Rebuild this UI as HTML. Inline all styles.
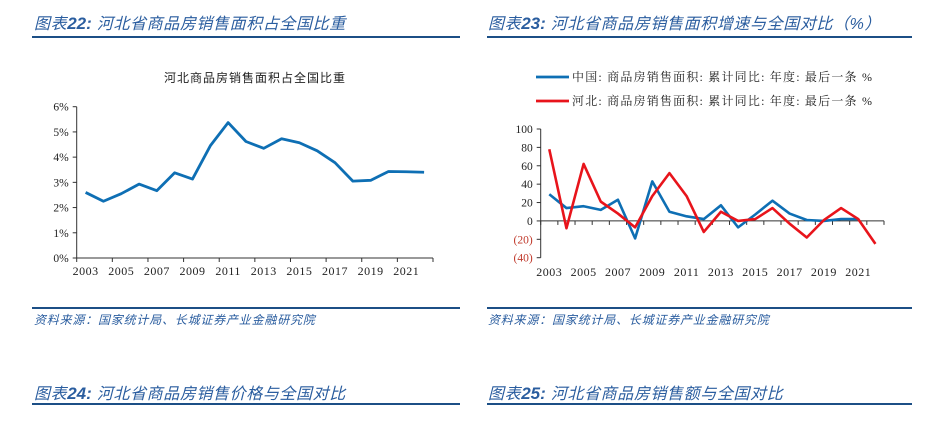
<!DOCTYPE html>
<html><head><meta charset="utf-8">
<style>
body{margin:0;width:940px;height:422px;background:#fff;overflow:hidden;font-family:"Liberation Sans","Noto Sans CJK SC",sans-serif;}
.h{position:absolute;color:#2a5d9f;font-style:italic;font-size:16px;letter-spacing:0.6px;white-space:nowrap;font-weight:normal}
.h b{font-weight:bold;letter-spacing:0;font-size:17px}
.h i{font-style:italic;font-weight:normal}
.ln{position:absolute;height:1.5px;background:#1c4f86;}
.src{position:absolute;color:#2a5d9f;font-style:italic;font-size:12px;letter-spacing:0.8px;white-space:nowrap;}
svg{position:absolute;left:0;top:0}
</style></head><body>
<div class="h" style="left:34px;top:10px"><i>图表</i><b>22:</b> 河北省商品房销售面积占全国比重</div>
<div class="h" style="left:488px;top:10px"><i>图表</i><b>23:</b> 河北省商品房销售面积增速与全国对比（%）</div>
<div class="ln" style="left:32px;top:36px;width:428px"></div>
<div class="ln" style="left:487px;top:36px;width:425px"></div>
<div class="ln" style="left:32px;top:307px;width:428px"></div>
<div class="ln" style="left:487px;top:307px;width:425px"></div>
<div class="src" style="left:34px;top:311px">资料来源：国家统计局、长城证券产业金融研究院</div>
<div class="src" style="left:488px;top:311px">资料来源：国家统计局、长城证券产业金融研究院</div>
<div class="h" style="left:34px;top:380px"><i>图表</i><b>24:</b> 河北省商品房销售价格与全国对比</div>
<div class="h" style="left:488px;top:380px"><i>图表</i><b>25:</b> 河北省商品房销售额与全国对比</div>
<div class="ln" style="left:32px;top:403px;width:428px"></div>
<div class="ln" style="left:487px;top:403px;width:425px"></div>
<svg id="s" width="940" height="422"></svg>
<script>
const years=[2003,2004,2005,2006,2007,2008,2009,2010,2011,2012,2013,2014,2015,2016,2017,2018,2019,2020,2021,2022];
const shareVals=[2.6,2.25,2.55,2.93,2.67,3.38,3.13,4.45,5.37,4.62,4.35,4.73,4.57,4.25,3.78,3.05,3.08,3.43,3.42,3.4];
const shareTicks=[0,1,2,3,4,5,6];
const chinaVals=[29,14,16,12,23,-19,43,10,5,2,17,-7,7,22,8,1,0,2,2,null];
const hebeiVals=[78,-8,62,21,8,-7,27,52,27,-12,10,0,2,14,-3,-18,1,14,2,-25];
const growthTicks=[100,80,60,40,20,0,-20,-40];
const xLabels=[2003,2005,2007,2009,2011,2013,2015,2017,2019,2021];
const S=document.getElementById('s');const NS='http://www.w3.org/2000/svg';
function el(t,a,txt){const e=document.createElementNS(NS,t);for(const k in a)e.setAttribute(k,a[k]);if(txt!=null)e.textContent=txt;S.appendChild(e);return e;}
const F='"Liberation Serif","Noto Serif CJK SC",serif';
// left chart
const L={x0:76.7,x1:433,y0:258,y1:106.7};
const lx=i=>L.x0+(L.x1-L.x0)/years.length*(i+0.5);
const ly=v=>L.y0-(L.y0-L.y1)*v/6;
let t=el('text',{x:255,y:82,'text-anchor':'middle','font-size':12,fill:'#222','letter-spacing':1,'font-family':'"Liberation Sans","Noto Sans CJK SC",sans-serif'},'河北商品房销售面积占全国比重');


let a=el('path',{d:`M${L.x0} ${L.y1}V${L.y0}H${L.x1}`,stroke:'#333',fill:'none','stroke-width':1});


shareTicks.forEach(v=>{el('line',{x1:L.x0-4,x2:L.x0,y1:ly(v),y2:ly(v),stroke:'#333'});
 const e=el('text',{x:L.x0-8,y:ly(v)+4,'text-anchor':'end','font-size':11.5,fill:'#222','font-family':F},v+'%');
 
 });
const lw=(L.x1-L.x0)/years.length;
for(let i=0;i<=years.length;i+=2)el('line',{x1:L.x0+lw*i,x2:L.x0+lw*i,y1:L.y0,y2:L.y0+4,stroke:'#333'});
xLabels.forEach(y=>{const i=years.indexOf(y);const e=el('text',{x:lx(i),y:L.y0+17,'text-anchor':'middle','font-size':12,'letter-spacing':0.5,fill:'#222','font-family':F},y);
 
 });
let p=el('polyline',{points:shareVals.map((v,i)=>lx(i)+','+ly(v)).join(' '),fill:'none',stroke:'#0e6fb4','stroke-width':2.8,'stroke-linejoin':'round'});


// right chart
const R={x0:540.7,x1:884,yT:129,yB:257.7};
const rx=i=>R.x0+(R.x1-R.x0)/years.length*(i+0.5);
const ry=v=>R.yT+(R.yB-R.yT)*(100-v)/140;
el('line',{x1:R.x0,x2:R.x0,y1:R.yT,y2:R.yB,stroke:'#333'});
let z=el('line',{x1:R.x0,x2:R.x1,y1:ry(0),y2:ry(0),stroke:'#333'});


growthTicks.forEach(v=>{el('line',{x1:R.x0-4,x2:R.x0,y1:ry(v),y2:ry(v),stroke:'#333'});
 const e=el('text',{x:R.x0-8,y:ry(v)+4,'text-anchor':'end','font-size':11.5,fill:v<0?'#c0392b':'#222','font-family':F},v<0?'('+(-v)+')':v);
 
 });
const rw=(R.x1-R.x0)/years.length;
for(let i=0;i<=years.length;i++)el('line',{x1:R.x0+rw*i,x2:R.x0+rw*i,y1:ry(0),y2:ry(0)+4,stroke:'#333'});
xLabels.forEach(y=>{const i=years.indexOf(y);const e=el('text',{x:rx(i),y:276,'text-anchor':'middle','font-size':12,'letter-spacing':0.5,fill:'#222','font-family':F},y);
 
 });
function line(vals,c,n){const pts=vals.map((v,i)=>v==null?null:rx(i)+','+ry(v)).filter(x=>x);
 const e=el('polyline',{points:pts.join(' '),fill:'none',stroke:c,'stroke-width':2.6,'stroke-linejoin':'round'});
 
 }
line(chinaVals,'#0e6fb4','china-line');
line(hebeiVals,'#e8141b','hebei-line');
[['#0e6fb4','中国: 商品房销售面积: 累计同比: 年度: 最后一条 %',77],['#e8141b','河北: 商品房销售面积: 累计同比: 年度: 最后一条 %',101]].forEach(d=>{
 const g=el('line',{x1:536,x2:569,y1:d[2],y2:d[2],stroke:d[0],'stroke-width':2.8});
 
 
 const e=el('text',{x:572,y:d[2]+4,'font-size':12,'letter-spacing':1.2,fill:'#222','font-family':F},d[1]);
 
 });
</script>
</body></html>
